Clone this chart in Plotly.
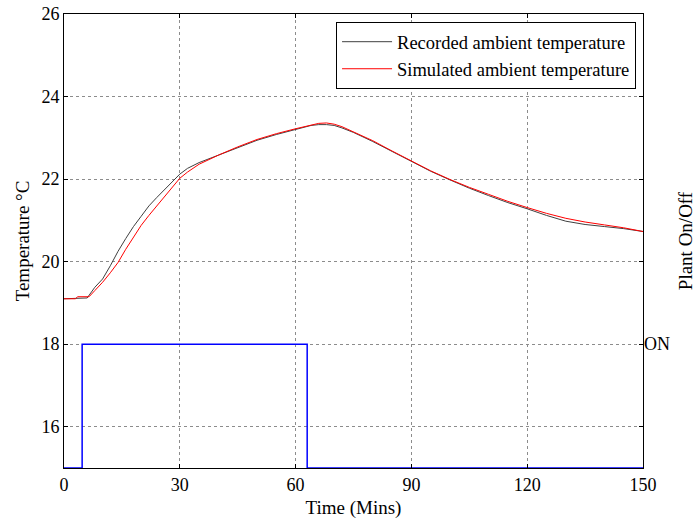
import plotly.graph_objects as go

# Recorded ambient temperature (minutes, deg C)
time_rec = [0, 6, 8, 10, 12, 14, 16, 18, 20, 22, 24, 26, 28, 30, 32, 35, 40, 45, 50, 55,
            60, 64, 66, 68, 70, 72, 75, 80, 85, 90, 95, 100, 105, 110, 115, 120, 125,
            130, 135, 140, 145, 150]
temp_rec = [19.10, 19.12, 19.38, 19.58, 19.90, 20.25, 20.56, 20.85, 21.10, 21.35, 21.55,
            21.75, 21.93, 22.12, 22.26, 22.40, 22.58, 22.77, 22.94, 23.08, 23.21, 23.30,
            23.32, 23.32, 23.30, 23.24, 23.13, 22.91, 22.67, 22.42, 22.19, 21.98, 21.78,
            21.60, 21.43, 21.28, 21.12, 20.98, 20.90, 20.85, 20.80, 20.73]

# Simulated ambient temperature
time_sim = [0, 3, 3.5, 6.5, 8, 10, 12, 14, 16, 18, 20, 22, 24, 26, 28, 30, 32, 35, 40, 45,
            50, 55, 60, 64, 66, 68, 70, 72, 75, 80, 85, 90, 95, 100, 105, 110, 115, 120,
            125, 130, 135, 140, 145, 150]
temp_sim = [19.10, 19.10, 19.15, 19.15, 19.30, 19.50, 19.73, 19.98, 20.30, 20.60, 20.88,
            21.12, 21.35, 21.57, 21.80, 22.02, 22.17, 22.36, 22.58, 22.78, 22.96, 23.10,
            23.22, 23.31, 23.35, 23.36, 23.33, 23.27, 23.15, 22.93, 22.68, 22.43, 22.20,
            21.99, 21.80, 21.63, 21.46, 21.31, 21.17, 21.05, 20.96, 20.89, 20.82, 20.73]

# Plant on/off state (1 = ON)
time_plant = [0, 4.7, 4.7, 63.0, 63.0, 150]
state_plant = [0, 0, 1, 1, 0, 0]

x_ticks = [0, 30, 60, 90, 120, 150]
y_ticks = [16, 18, 20, 22, 24, 26]

FONT = "Liberation Serif"
TICK_FONT = dict(family=FONT, size=18, color="black")
TITLE_FONT = dict(family=FONT, size=19, color="black")

fig = go.Figure()
fig.add_trace(go.Scatter(x=time_plant, y=state_plant, mode="lines", yaxis="y2",
                         line=dict(color="#0000ff", width=1.5), showlegend=False))
fig.add_trace(go.Scatter(x=time_rec, y=temp_rec, mode="lines",
                         name="Recorded ambient temperature",
                         line=dict(color="#404040", width=1)))
fig.add_trace(go.Scatter(x=time_sim, y=temp_sim, mode="lines",
                         name="Simulated ambient temperature",
                         line=dict(color="#ff0000", width=1)))

axis_common = dict(showline=True, linecolor="black", linewidth=1, mirror="ticks",
                   ticks="inside", ticklen=4, tickcolor="black", automargin=False,
                   showgrid=True, gridcolor="#8c8c8c", griddash="dot", gridwidth=1,
                   zeroline=False, tickfont=TICK_FONT)

fig.update_layout(
    width=696, height=519,
    margin=dict(l=64, r=53, t=14, b=51, autoexpand=False),
    paper_bgcolor="white", plot_bgcolor="white",
    font=dict(family=FONT, color="black"),
    xaxis=dict(range=[0, 150], tickvals=x_ticks,
               title=dict(text="Time (Mins)", font=TITLE_FONT, standoff=7),
               **axis_common),
    yaxis=dict(range=[15, 26], tickvals=y_ticks,
               title=dict(text="Temperature °C", font=TITLE_FONT, standoff=6),
               **axis_common),
    yaxis2=dict(overlaying="y", side="right", range=[0, 11 / 3], tickvals=[1],
                ticktext=["ON"], ticks="", showgrid=False, showline=False, zeroline=False,
                automargin=False, tickfont=TICK_FONT,
                title=dict(text="Plant On/Off", font=TITLE_FONT, standoff=10)),
    legend=dict(x=0.988, y=0.982, xanchor="right", yanchor="top",
                bgcolor="white", bordercolor="black", borderwidth=1,
                font=dict(family=FONT, size=18.5), itemwidth=50,
                tracegroupgap=0),
)

fig.write_html("out.html")
